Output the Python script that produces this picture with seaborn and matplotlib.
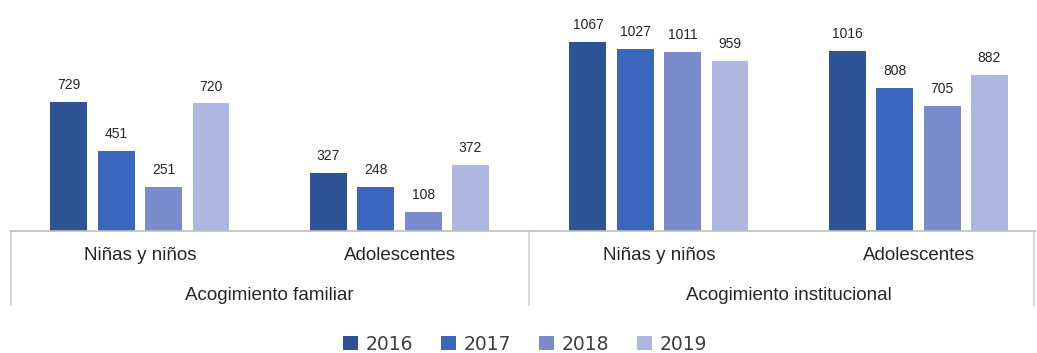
import matplotlib
matplotlib.use("Agg")
import matplotlib.pyplot as plt
import seaborn as sns
import pandas as pd

# Data: children in care by modality, population group and year
modalities = ["Acogimiento familiar", "Acogimiento institucional"]
groups = ["Niñas y niños", "Adolescentes"]
years = ["2016", "2017", "2018", "2019"]

familiar_ninos = [729, 451, 251, 720]
familiar_adolescentes = [327, 248, 108, 372]
institucional_ninos = [1067, 1027, 1011, 959]
institucional_adolescentes = [1016, 808, 705, 882]

colors = ["#2E5496", "#3A66BD", "#7A8CCB", "#AEB7DF"]

series = {
    (modalities[0], groups[0]): familiar_ninos,
    (modalities[0], groups[1]): familiar_adolescentes,
    (modalities[1], groups[0]): institucional_ninos,
    (modalities[1], groups[1]): institucional_adolescentes,
}

rows = []
for (mod, grp), vals in series.items():
    for yr, v in zip(years, vals):
        rows.append({"cat": f"{mod}|{grp}", "grupo": grp, "modalidad": mod,
                     "anio": yr, "valor": v})
df = pd.DataFrame(rows)
order = [f"{m}|{g}" for m in modalities for g in groups]

sns.set_theme(style="white")
plt.rcParams["font.family"] = ["Liberation Sans", "DejaVu Sans"]

fig = plt.figure(figsize=(10.37, 3.53), dpi=100)
ax = fig.add_axes([11 / 1037, 122 / 353, 1024 / 1037, 231 / 353])

sns.barplot(data=df, x="cat", y="valor", hue="anio", order=order,
            hue_order=years, palette=colors, width=0.73, gap=0.22,
            saturation=1, errorbar=None, linewidth=0, ax=ax)

for cont in ax.containers:
    ax.bar_label(cont, fmt="%d", padding=7, fontsize=10, color="#262626")

ax.set_xlim(-0.497, 3.449)
ax.set_ylim(0, 1304)
ax.set_xlabel("")
ax.set_ylabel("")
ax.set_yticks([])
ax.set_xticks([])
for side in ["left", "right", "top"]:
    ax.spines[side].set_visible(False)
ax.spines["bottom"].set_color("#BFBFBF")
ax.spines["bottom"].set_linewidth(1.2)

# Two-level category axis
trans = ax.get_xaxis_transform()
for i, cat in enumerate(order):
    grp = cat.split("|")[1]
    ax.text(i, -0.108, grp, transform=trans, ha="center", va="center",
            fontsize=13.5, color="#262626")
for j, mod in enumerate(modalities):
    ax.text(2 * j + 0.5, -0.281, mod, transform=trans, ha="center",
            va="center", fontsize=13.5, color="#262626")
for xsep in [-0.497, 1.5, 3.445]:
    ax.plot([xsep, xsep], [0, -0.32], transform=trans, color="#D0D0D0",
            lw=1.2, clip_on=False)

sns.move_legend(ax, "center", bbox_to_anchor=(0.502, -0.49), ncol=4,
                frameon=False, title=None, handlelength=0.8,
                handleheight=0.8, handletextpad=0.4, columnspacing=1.5,
                prop={"family": "DejaVu Sans", "size": 13.5})
for t in ax.get_legend().get_texts():
    t.set_color("#404040")

fig.savefig("out.png", dpi=100, facecolor="white")
